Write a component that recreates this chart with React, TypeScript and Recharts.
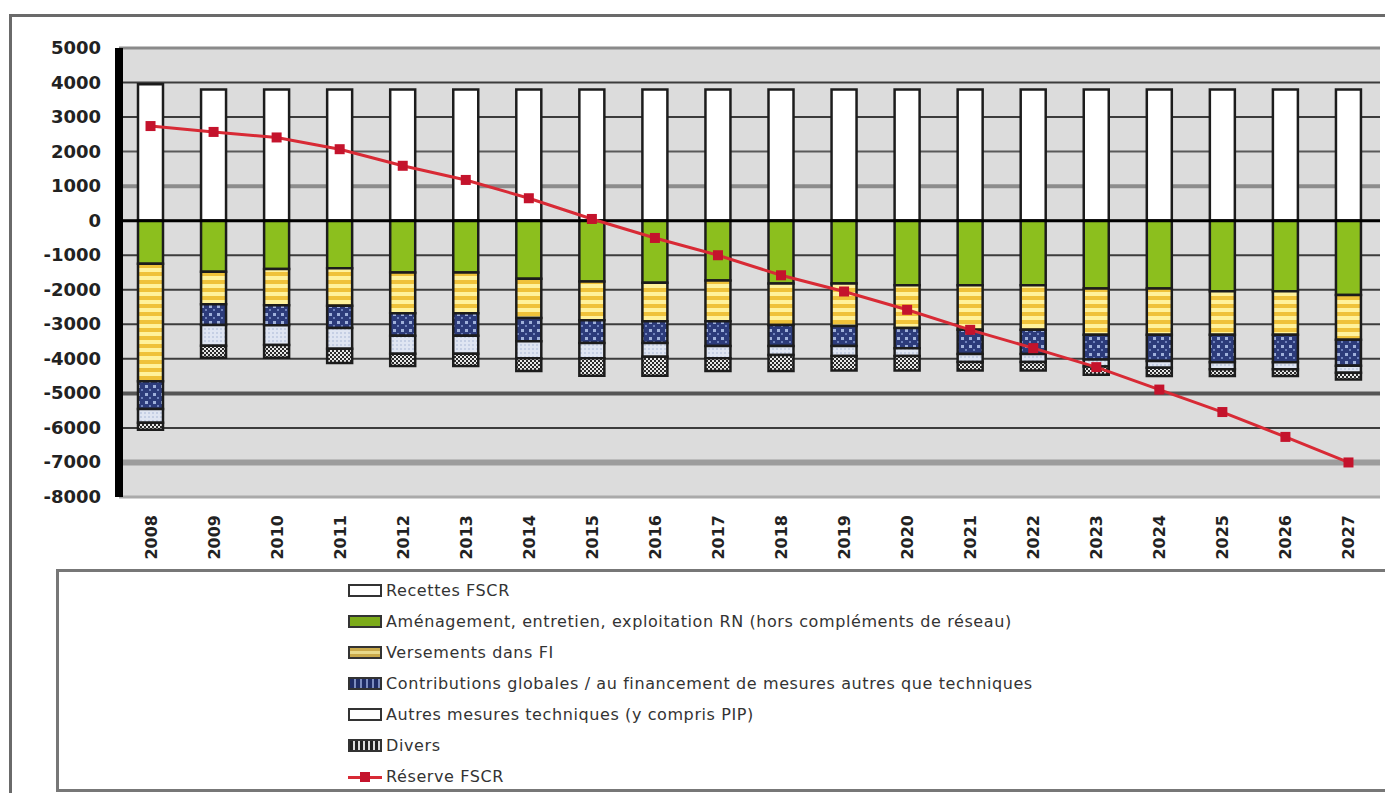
import React from "react";
import {
  ComposedChart,
  Bar,
  Line,
  XAxis,
  YAxis,
  CartesianGrid,
  ReferenceLine,
} from "recharts";

// values in millions CHF
const years = [
  "2008", "2009", "2010", "2011", "2012", "2013", "2014", "2015", "2016", "2017",
  "2018", "2019", "2020", "2021", "2022", "2023", "2024", "2025", "2026", "2027",
];
const recettes = [3950, 3800, 3800, 3800, 3800, 3800, 3800, 3800, 3800, 3800, 3800, 3800, 3800, 3800, 3800, 3800, 3800, 3800, 3800, 3800];
const amenagement = [-1250, -1480, -1400, -1380, -1500, -1500, -1680, -1760, -1800, -1730, -1820, -1820, -1870, -1870, -1870, -1960, -1960, -2040, -2040, -2150];
const versements = [-3400, -940, -1050, -1080, -1180, -1180, -1140, -1120, -1110, -1180, -1200, -1230, -1240, -1290, -1290, -1340, -1340, -1260, -1260, -1300];
const contributions = [-800, -600, -580, -650, -650, -650, -670, -660, -630, -720, -610, -580, -580, -700, -700, -720, -760, -800, -800, -750];
const autres = [-400, -600, -570, -600, -520, -520, -490, -440, -400, -350, -260, -290, -230, -230, -230, -200, -200, -200, -200, -200];
const divers = [-200, -350, -370, -410, -360, -360, -370, -510, -550, -370, -460, -420, -420, -250, -250, -240, -240, -200, -200, -200];
const reserve = [2740, 2570, 2410, 2070, 1590, 1180, 650, 50, -500, -1000, -1580, -2050, -2580, -3160, -3690, -4240, -4890, -5540, -6260, -7000];

const yTicks = [5000, 4000, 3000, 2000, 1000, 0, -1000, -2000, -3000, -4000, -5000, -6000, -7000, -8000];

const seriesNames = {
  recettes: "Recettes FSCR",
  amenagement: "Aménagement, entretien, exploitation RN (hors compléments de réseau)",
  versements: "Versements dans FI",
  contributions: "Contributions globales / au financement de mesures autres que techniques",
  autres: "Autres mesures techniques (y compris PIP)",
  divers: "Divers",
  reserve: "Réserve FSCR",
};

const data = years.map((year, i) => ({
  year,
  recettes: recettes[i],
  amenagement: amenagement[i],
  versements: versements[i],
  contributions: contributions[i],
  autres: autres[i],
  divers: divers[i],
  reserve: reserve[i],
}));

const W = 1385;
const H = 793;
const PLOT_TOP = 48;
const PLOT_BOTTOM = 497;
const FONT = "'DejaVu Sans', 'Liberation Sans', Arial, sans-serif";

// heavier / lighter gridlines as in the original
function gridStyle(v: number) {
  if (v === 5000) return { stroke: "#8a8a8a", w: 3 };
  if (v === 1000) return { stroke: "#8c8c8c", w: 4 };
  if (v === 2000) return { stroke: "#5a5a5a", w: 2 };
  if (v === -5000) return { stroke: "#555", w: 4 };
  if (v === -7000) return { stroke: "#9c9c9c", w: 6 };
  if (v === -8000) return { stroke: "#aaa", w: 3 };
  return { stroke: "#3c3c3c", w: 2 };
}

function GridLine(props: any) {
  const { x1, x2, y1 } = props;
  const v = Math.round((5000 - ((y1 - PLOT_TOP) / (PLOT_BOTTOM - PLOT_TOP)) * 13000) / 1000) * 1000;
  const s = gridStyle(v);
  return <line x1={x1} x2={x2} y1={y1} y2={y1} stroke={s.stroke} strokeWidth={s.w} />;
}

function YTick(props: any) {
  const { x, y, payload } = props;
  return (
    <text x={x} y={y} dy={6} textAnchor="end" fontFamily={FONT} fontWeight="bold" fontSize={18} fill="#222">
      {payload.value}
    </text>
  );
}

function XTick(props: any) {
  const { x, y, payload } = props;
  return (
    <text
      transform={`translate(${x},${y}) rotate(-90)`}
      dy={6}
      textAnchor="end"
      fontFamily={FONT}
      fontWeight="bold"
      fontSize={16}
      fill="#222"
    >
      {payload.value}
    </text>
  );
}

function SquareDot(props: any) {
  const { cx, cy } = props;
  if (cx == null || cy == null) return null;
  return <rect x={cx - 5} y={cy - 5} width={10} height={10} fill="#c4132c" />;
}

const legendIcons: Record<string, React.CSSProperties> = {
  recettes: { background: "#fff" },
  amenagement: { background: "#7cab1a" },
  versements: { background: "repeating-linear-gradient(#c9a94a 0 3px, #e8d98a 3px 6px)" },
  contributions: { background: "repeating-linear-gradient(90deg, #1f2c66 0 4px, #7c8cc0 4px 6px)" },
  autres: { background: "#fff" },
  divers: { background: "repeating-linear-gradient(90deg, #222 0 3px, #ddd 3px 5px)" },
};

function LegendBox() {
  const keys = ["recettes", "amenagement", "versements", "contributions", "autres", "divers"];
  return (
    <div
      style={{
        position: "absolute",
        left: 56,
        top: 569,
        width: 1270,
        height: 214,
        border: "3px solid #777",
        background: "#fff",
        paddingTop: 3,
        paddingLeft: 289,
        fontFamily: FONT,
        fontSize: 16,
        letterSpacing: 0.6,
        color: "#333",
        boxSizing: "content-box",
      }}
    >
      {keys.map((k) => (
        <div key={k} style={{ height: 31, display: "flex", alignItems: "center" }}>
          <span
            style={{
              display: "inline-block",
              width: 30,
              height: 9,
              border: "2px solid #333",
              marginRight: 4,
              ...legendIcons[k],
            }}
          />
          {seriesNames[k as keyof typeof seriesNames]}
        </div>
      ))}
      <div style={{ height: 31, display: "flex", alignItems: "center" }}>
        <span style={{ position: "relative", display: "inline-block", width: 34, height: 12, marginRight: 4 }}>
          <span style={{ position: "absolute", left: 0, right: 0, top: 5, height: 3, background: "#d82a35" }} />
          <span style={{ position: "absolute", left: 12, top: 1, width: 10, height: 10, background: "#c4132c" }} />
        </span>
        {seriesNames.reserve}
      </div>
    </div>
  );
}

export default function App() {
  return (
    <div style={{ position: "fixed", left: 0, top: 0, width: W, height: H, overflow: "hidden", background: "#fff" }}>
      <div
        style={{
          position: "absolute",
          left: 9,
          top: 14,
          right: -60,
          bottom: -60,
          borderLeft: "3px solid #6a6a6a",
          borderTop: "3px solid #6a6a6a",
        }}
      />
      <div style={{ position: "absolute", left: 0, top: 0 }}>
        <ComposedChart
          width={W}
          height={H}
          data={data}
          stackOffset="sign"
          barCategoryGap={0}
          margin={{ top: PLOT_TOP, right: 5, left: 0, bottom: 0 }}
        >
          <defs>
            <pattern id="patVers" width="6" height="8" patternUnits="userSpaceOnUse">
              <rect width="6" height="8" fill="#efc23a" />
              <rect y="4" width="6" height="4" fill="#fff29c" />
            </pattern>
            <pattern id="patContrib" width="8" height="8" patternUnits="userSpaceOnUse">
              <rect width="8" height="8" fill="#2c3b7a" />
              <rect x="1" y="1" width="3" height="3" fill="#9fb0da" />
              <rect x="5" y="5" width="2" height="2" fill="#6f82bc" />
            </pattern>
            <pattern id="patAutres" width="4" height="4" patternUnits="userSpaceOnUse">
              <rect width="4" height="4" fill="#dfe5f2" />
              <rect width="2" height="2" fill="#c5cfe4" />
            </pattern>
            <pattern id="patDivers" width="4" height="4" patternUnits="userSpaceOnUse">
              <rect width="4" height="4" fill="#2b2b2b" />
              <rect width="2" height="2" fill="#e8e8e8" />
              <rect x="2" y="2" width="2" height="2" fill="#e8e8e8" />
            </pattern>
          </defs>
          <CartesianGrid vertical={false} horizontal={(p: any) => <GridLine key={p.key} {...p} />} fill="#dcdcdc" />
          <XAxis
            dataKey="year"
            height={H - PLOT_BOTTOM}
            axisLine={false}
            tickLine={false}
            tickSize={0}
            tickMargin={18}
            interval={0}
            tick={<XTick />}
          />
          <YAxis
            domain={[-8000, 5000]}
            ticks={yTicks}
            interval={0}
            width={119}
            axisLine={{ stroke: "#000", strokeWidth: 8 }}
            tickLine={false}
            tickSize={0}
            tickMargin={18}
            tick={<YTick />}
            allowDataOverflow
          />
          <Bar dataKey="recettes" name={seriesNames.recettes} stackId="a" barSize={25} fill="#ffffff" stroke="#1c1c1c" strokeWidth={2.5} isAnimationActive={false} />
          <Bar dataKey="amenagement" name={seriesNames.amenagement} stackId="a" barSize={25} fill="#8cbf1e" stroke="#1c1c1c" strokeWidth={2.5} isAnimationActive={false} />
          <Bar dataKey="versements" name={seriesNames.versements} stackId="a" barSize={25} fill="url(#patVers)" stroke="#1c1c1c" strokeWidth={2.5} isAnimationActive={false} />
          <Bar dataKey="contributions" name={seriesNames.contributions} stackId="a" barSize={25} fill="url(#patContrib)" stroke="#1c1c1c" strokeWidth={2.5} isAnimationActive={false} />
          <Bar dataKey="autres" name={seriesNames.autres} stackId="a" barSize={25} fill="url(#patAutres)" stroke="#1c1c1c" strokeWidth={2.5} isAnimationActive={false} />
          <Bar dataKey="divers" name={seriesNames.divers} stackId="a" barSize={25} fill="url(#patDivers)" stroke="#1c1c1c" strokeWidth={2.5} isAnimationActive={false} />
          <ReferenceLine y={0} stroke="#000" strokeWidth={3} />
          <Line
            type="linear"
            dataKey="reserve"
            name={seriesNames.reserve}
            stroke="#d82a35"
            strokeWidth={3}
            dot={<SquareDot />}
            activeDot={false}
            isAnimationActive={false}
          />
        </ComposedChart>
      </div>
      <LegendBox />
    </div>
  );
}
